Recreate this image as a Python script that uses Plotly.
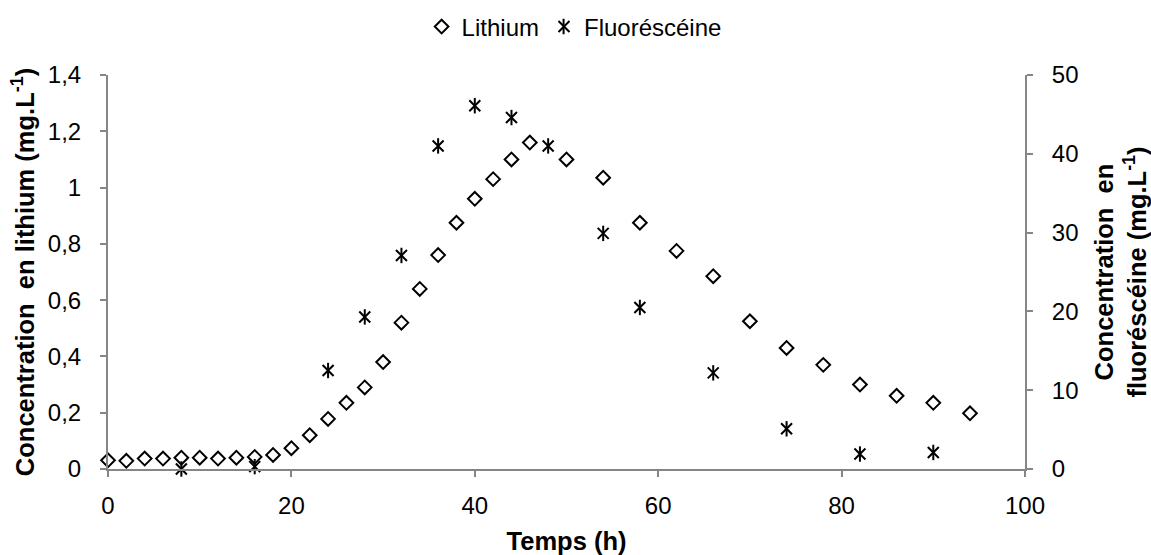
import plotly.graph_objects as go

# Sampling times (h) and measured concentrations
hours_lithium = [0, 2, 4, 6, 8, 10, 12, 14, 16, 18, 20, 22, 24, 26, 28, 30, 32, 34,
                 36, 38, 40, 42, 44, 46, 50, 54, 58, 62, 66, 70, 74, 78, 82, 86, 90, 94]
lithium = [0.031, 0.029, 0.037, 0.037, 0.040, 0.040, 0.037, 0.040, 0.043, 0.050,
           0.074, 0.120, 0.178, 0.235, 0.290, 0.380, 0.520, 0.640, 0.760, 0.875,
           0.960, 1.030, 1.100, 1.160, 1.100, 1.035, 0.875, 0.775, 0.685, 0.525,
           0.430, 0.370, 0.300, 0.260, 0.235, 0.198]

hours_fluo = [8, 16, 24, 28, 32, 36, 40, 44, 48, 54, 58, 66, 74, 82, 90]
fluoresceine = [0.0, 0.3, 12.5, 19.3, 27.1, 41.0, 46.1, 44.6, 41.0, 29.9, 20.5,
                12.2, 5.1, 1.9, 2.1]

x_ticks = [0, 20, 40, 60, 80, 100]

FONT = "Liberation Sans, Arial, sans-serif"
AXIS_GREY = "#868686"

fig = go.Figure()

fig.add_trace(go.Scatter(
    x=hours_lithium, y=lithium, name="Lithium", mode="markers",
    marker=dict(symbol="diamond-open", size=10.5, color="black",
                line=dict(width=2, color="black")),
    cliponaxis=False, yaxis="y",
))

# The star marker: a thin X plus a vertical bar drawn on the same points
fig.add_trace(go.Scatter(
    x=hours_fluo, y=fluoresceine, name="Fluoréscéine", mode="markers",
    marker=dict(symbol="x-thin-open", size=11, color="black",
                line=dict(width=2, color="black")),
    cliponaxis=False, yaxis="y2",
))
fig.add_trace(go.Scatter(
    x=hours_fluo, y=fluoresceine, name=" ", mode="markers",
    marker=dict(symbol="line-ns-open", size=11, color="black",
                line=dict(width=2, color="black")),
    cliponaxis=False, yaxis="y2", legend="legend2",
))

axis_common = dict(
    showline=True, linecolor=AXIS_GREY, linewidth=2,
    ticks="outside", ticklen=6, tickwidth=2, tickcolor=AXIS_GREY,
    showgrid=False, zeroline=False,
    tickfont=dict(family=FONT, size=24, color="black"),
)

TITLE_FONT = dict(family=FONT, size=25.5, color="black")

fig.update_layout(
    width=1151, height=555,
    margin=dict(l=108, r=126, t=75, b=86, autoexpand=False),
    paper_bgcolor="white", plot_bgcolor="white",
    separators=", ",
    font=dict(family=FONT, color="black"),
    xaxis=dict(
        range=[0, 100], tickvals=x_ticks, ticklabelstandoff=8,
        title=dict(text="<b>Temps (h)</b>", font=TITLE_FONT, standoff=14),
        automargin=False, **axis_common,
    ),
    yaxis=dict(
        range=[0, 1.4], dtick=0.2, ticklabelstandoff=14,
        title=dict(text="<b>Concentration  en lithium (mg.L<sup>-1</sup>)</b>",
                   font=TITLE_FONT, standoff=6),
        automargin=False, **axis_common,
    ),
    yaxis2=dict(
        range=[0, 50], dtick=10, overlaying="y", side="right",
        ticklabelstandoff=14,
        title=dict(text="<b>Concentration  en<br>fluoréscéine (mg.L<sup>-1</sup>)</b>",
                   font=TITLE_FONT, standoff=27),
        automargin=False, **axis_common,
    ),
    legend=dict(
        orientation="h", x=0.342, xanchor="left", y=1.122, yanchor="middle",
        font=dict(family=FONT, size=24), itemwidth=30,
        bgcolor="rgba(0,0,0,0)", traceorder="normal",
    ),
    legend2=dict(
        orientation="h", x=0.475, xanchor="left", y=1.122, yanchor="middle",
        font=dict(family=FONT, size=24), itemwidth=30,
        bgcolor="rgba(0,0,0,0)",
    ),
)

fig.write_html("out.html")
